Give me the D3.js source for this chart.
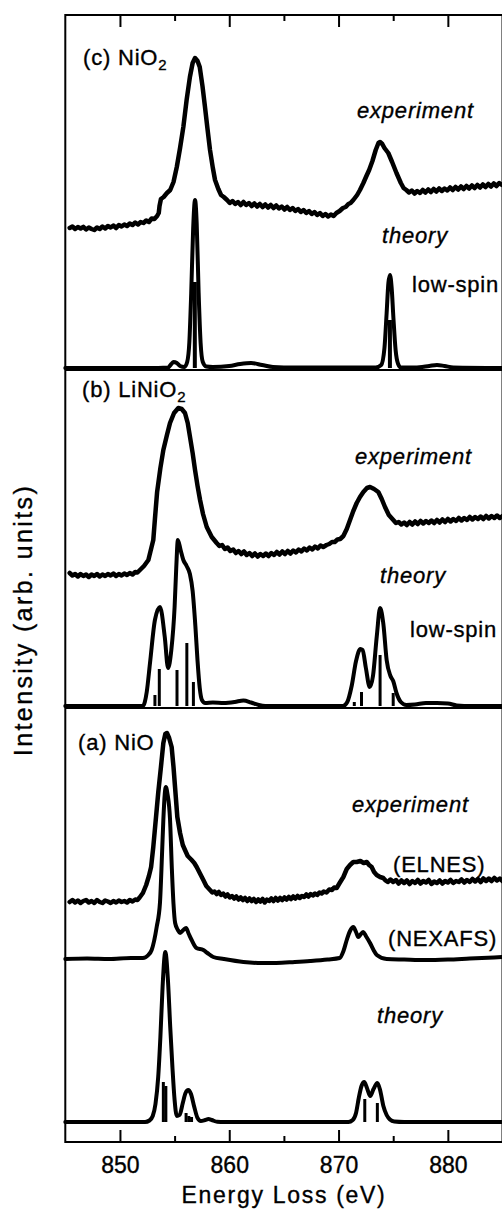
<!DOCTYPE html>
<html>
<head>
<meta charset="utf-8">
<script src="https://cdn.jsdelivr.net/npm/d3@7"></script>
<style>
  html, body { margin: 0; padding: 0; background: #fff; }
  svg { display: block; }
  text { font-family: "Liberation Sans", Arial, Helvetica, sans-serif; fill: #000; }
</style>
</head>
<body>
<svg id="chart" width="502" height="1212"></svg>
<script>
// ---------- data: Ni L2,3-edge spectra, [energy (eV), intensity (arb.)] ----------
const energyDomain = [845, 885];
const majorTicks = [850, 860, 870, 880];
const minorTicks = [855, 865, 875];

// vertical offsets of each trace in the stacked plot (arb. units)
const offsetNiO2Exp = 91.4;
const offsetNiO2Theory = 77.4;
const offsetLiNiO2Exp = 56.7;
const offsetLiNiO2Theory = 43.6;
const offsetNiOElnes = 24.0;
const offsetNiONexafs = 18.3;
const offsetNiOTheory = 2.0;
const panelBoundaries = [77.2, 43.4];

// (c) NiO2 — EELS experiment
const niO2Experiment = [
  [845.4,0],[845.65,0.15],[845.9,-0.1],[846.15,0.1],[846.4,-0.05],[846.65,0.12],[846.9,-0.15],[847.15,0.05],
  [847.4,-0.1],[847.65,-0.2],[847.9,0.05],[848.15,-0.1],[848.4,0.15],[848.65,-0.05],[848.9,0.2],[849.15,0.05],
  [849.4,0.25],[849.65,0.0],[849.9,0.3],[850.15,0.15],[850.4,0.35],[850.65,0.2],[850.9,0.45],[851.15,0.3],
  [851.4,0.55],[851.65,0.35],[851.9,0.6],[852.15,0.5],[852.4,0.75],[852.65,0.6],[852.9,0.95],[853.15,0.9],
  [853.4,1.2],[853.55,1.5],[853.62,2.2],[853.75,2.9],[854.0,3.1],[854.3,3.5],[854.6,3.8],
  [854.9,4.6],[855.2,6.1],[855.5,8.0],[855.8,10.1],[856.1,12.8],[856.4,15.1],[856.65,16.5],[856.87,17.0],
  [857.1,16.7],[857.3,16.1],[857.55,14.2],[857.78,12.1],[858.0,10.0],[858.24,7.8],[858.5,6.0],[858.7,4.8],
  [859.0,3.9],[859.25,3.3],[859.5,3.1],[859.8,2.8],[860.05,2.5],[860.3,2.7],[860.55,2.4],[860.8,2.6],
  [861.05,2.3],[861.3,2.6],[861.55,2.3],[861.8,2.5],[862.05,2.2],[862.3,2.45],[862.55,2.15],[862.8,2.4],
  [863.05,2.1],[863.3,2.35],[863.55,2.05],[863.8,2.3],[864.05,2.0],[864.3,2.25],[864.55,1.95],[864.8,2.15],
  [865.05,1.85],[865.3,2.1],[865.55,1.8],[865.8,2.0],[866.05,1.7],[866.3,1.9],[866.55,1.6],[866.8,1.8],
  [867.05,1.5],[867.3,1.7],[867.55,1.4],[867.8,1.6],[868.05,1.3],[868.3,1.5],[868.55,1.2],[868.8,1.4],
  [869.05,1.15],[869.3,1.35],[869.55,1.2],[869.8,1.5],[870.1,1.7],[870.4,2.0],[870.65,2.1],[870.9,2.4],
  [871.1,2.5],[871.35,2.8],[871.7,3.3],[871.96,3.8],[872.27,4.5],[872.55,5.2],[872.8,5.8],[873.1,6.7],
  [873.4,7.8],[873.65,8.5],[873.8,8.6],[874.0,8.4],[874.2,8.0],[874.55,7.5],[874.9,6.6],[875.3,5.5],
  [875.7,4.5],[875.95,4.0],[876.2,3.8],[876.45,3.55],[876.7,3.75],[876.95,3.45],[877.2,3.7],[877.45,3.5],
  [877.7,3.8],[877.95,3.55],[878.2,3.85],[878.45,3.6],[878.7,3.9],[878.95,3.65],[879.2,3.95],[879.45,3.7],
  [879.7,3.95],[879.95,3.75],[880.2,4.05],[880.45,3.8],[880.7,4.1],[880.95,3.85],[881.2,4.15],[881.45,3.9],
  [881.7,4.2],[881.95,3.95],[882.2,4.25],[882.45,4.0],[882.7,4.3],[882.95,4.05],[883.2,4.35],[883.45,4.1],
  [883.7,4.4],[883.95,4.15],[884.2,4.45],[884.45,4.2],[884.7,4.5],[884.95,4.3],[885.2,4.45]
];
// (c) NiO2 — multiplet theory, low-spin (broadened)
const niO2Theory = [
  [845,0],[853.5,0],[854.4,0.05],[854.7,0.4],[854.9,0.6],[855.2,0.5],[855.5,0.2],[855.9,0.1],
  [856.15,0.6],[856.35,2.6],[856.52,7.5],[856.7,14.0],[856.87,16.8],[857.02,14.5],[857.2,7.5],[857.38,2.5],
  [857.58,0.6],[857.9,0.15],[858.5,0.1],[860.0,0.2],[861.0,0.4],[862.0,0.5],[863.0,0.3],[864.0,0.1],
  [866.0,0.05],[873.4,0.05],[873.9,0.3],[874.2,2.0],[874.4,5.5],[874.56,8.5],[874.71,9.3],[874.86,8.0],
  [875.02,5.0],[875.22,1.8],[875.45,0.4],[875.7,0.05],[877.0,0.05],[878.3,0.2],[879.0,0.3],[879.7,0.2],
  [880.5,0.05],[885.2,0]
];
// (c) NiO2 — multiplet line intensities
const niO2Sticks = [[856.85, 8.6], [874.7, 4.8]];

// (b) LiNiO2 — EELS experiment
const liNiO2Experiment = [
  [845.4,0.2],[845.65,-0.05],[845.9,0.1],[846.15,-0.15],[846.4,0.1],[846.65,-0.1],[846.9,0.05],[847.15,-0.2],
  [847.4,0.05],[847.65,-0.1],[847.9,0.1],[848.15,-0.15],[848.4,0.05],[848.65,-0.1],[848.9,0.1],[849.15,-0.05],
  [849.4,0.15],[849.65,-0.1],[849.9,0.1],[850.15,-0.05],[850.4,0.15],[850.65,0.0],[850.9,0.2],[851.15,0.05],
  [851.4,0.3],[851.6,0.25],[851.83,0.5],[852.2,0.9],[852.6,1.5],
  [853.05,3.5],[853.2,5.6],[853.4,8.3],[853.7,10.7],[853.97,12.5],[854.3,14.0],[854.58,15.2],[854.95,16.2],
  [855.34,16.7],[855.65,16.6],[855.95,16.2],[856.2,15.2],[856.41,13.8],[856.65,12.2],[856.87,10.5],[857.1,8.9],
  [857.33,7.5],[857.6,6.1],[857.94,4.8],[858.4,3.8],[858.85,3.2],[859.1,2.9],[859.35,3.0],[859.6,2.6],
  [859.85,2.75],[860.1,2.4],[860.37,2.55],[860.6,2.2],[860.85,2.4],[861.1,2.1],[861.35,2.35],[861.6,2.0],
  [861.85,2.2],[862.1,1.9],[862.35,2.15],[862.6,1.85],[862.85,2.1],[863.1,1.9],[863.35,2.15],[863.6,1.9],
  [863.85,2.2],[864.1,2.0],[864.35,2.3],[864.6,2.05],[864.85,2.35],[865.1,2.1],[865.35,2.4],[865.6,2.15],
  [865.85,2.45],[866.1,2.25],[866.35,2.55],[866.6,2.35],[866.85,2.65],[867.1,2.45],[867.35,2.75],[867.6,2.55],
  [867.85,2.85],[868.1,2.65],[868.35,2.95],[868.6,2.8],[868.9,3.0],[869.15,3.1],[869.4,3.3],[869.65,3.3],
  [869.9,3.55],[870.15,3.6],[870.44,3.9],[870.75,4.6],[871.05,5.5],[871.35,6.4],[871.66,7.2],
  [871.96,7.8],[872.27,8.3],[872.6,8.7],[872.88,8.8],[873.25,8.6],[873.64,8.3],[873.95,7.6],[874.25,6.8],
  [874.6,6.0],[875.01,5.5],[875.25,5.2],[875.5,5.3],[875.75,5.05],[876.0,5.25],[876.25,5.0],[876.5,5.3],
  [876.75,5.05],[877.0,5.35],[877.25,5.1],[877.5,5.4],[877.75,5.15],[878.0,5.4],[878.25,5.2],[878.5,5.45],
  [878.75,5.2],[879.0,5.5],[879.25,5.25],[879.5,5.55],[879.75,5.3],[880.0,5.6],[880.25,5.35],[880.5,5.6],
  [880.75,5.4],[881.0,5.7],[881.25,5.45],[881.5,5.7],[881.75,5.5],[882.0,5.8],[882.25,5.55],[882.5,5.8],
  [882.75,5.6],[883.0,5.85],[883.25,5.6],[883.5,5.9],[883.75,5.65],[884.0,5.9],[884.25,5.7],[884.5,5.95],
  [884.75,5.7],[885.0,5.9],[885.2,5.8]
];
// (b) LiNiO2 — multiplet theory, low-spin (broadened)
const liNiO2Theory = [
  [845,0],[852.1,0],[852.45,1.4],[852.75,4.3],[853.2,8.6],[853.66,9.9],[854.1,6.9],[854.4,3.8],
  [854.7,5.6],[855.0,9.9],[855.15,13.8],[855.3,16.6],[855.55,15.6],[855.8,14.6],[856.1,14.0],[856.4,13.2],
  [856.65,11.5],[856.9,8.0],[857.1,4.5],[857.3,1.8],[857.5,0.6],[857.8,0.3],[858.5,0.35],[859.5,0.3],
  [860.5,0.4],[861.3,0.55],[862.0,0.35],[862.7,0.1],[863.3,0],[870.4,0],[870.8,0.4],[871.2,2.0],
  [871.6,4.5],[872.0,5.7],[872.2,5.6],[872.5,3.8],[872.85,1.9],[873.15,3.0],[873.5,7.0],[873.8,9.8],
  [874.1,8.2],[874.4,4.6],[874.75,3.0],[875.0,2.5],[875.3,1.3],[875.7,0.4],[876.2,0.1],[877.0,0.15],
  [878.0,0.3],[879.0,0.3],[880.0,0.25],[880.8,0.05],[881.5,0],[885.2,0]
];
// (b) LiNiO2 — multiplet line intensities
const liNiO2Sticks = [
  [853.2,1.1],[853.6,3.7],[855.22,3.6],[856.12,6.3],[856.72,2.4],
  [871.44,0.4],[872.1,1.4],[873.8,5.1],[875.0,1.3]
];

// (a) NiO — EELS experiment (ELNES)
const nioElnes = [
  [845.4,0],[845.65,0.2],[845.9,-0.05],[846.15,0.15],[846.4,-0.1],[846.65,0.1],[846.9,0.2],[847.15,-0.05],
  [847.4,0.1],[847.65,-0.1],[847.9,0.2],[848.15,0.0],[848.4,-0.1],[848.65,0.15],[848.9,0.05],[849.15,-0.1],
  [849.4,0.1],[849.65,-0.05],[849.9,0.15],[850.15,0.0],[850.4,0.1],[850.65,-0.05],[850.9,0.2],[851.15,0.05],
  [851.4,0.25],[851.6,0.2],[851.8,0.45],[852.1,0.9],[852.4,1.7],
  [852.65,2.6],[852.85,3.5],[853.05,5.5],[853.3,8.5],[853.5,10.9],[853.75,13.5],[853.97,15.9],[854.15,16.8],
  [854.3,16.9],[854.5,16.4],[854.73,15.5],[854.9,13.5],[855.04,11.5],[855.25,8.5],[855.5,6.9],[855.75,5.7],
  [855.95,5.2],[856.2,4.6],[856.56,4.2],[856.8,3.9],[857.02,3.5],[857.3,2.9],[857.63,2.2],[857.9,1.6],
  [858.24,1.2],[858.45,0.95],[858.65,1.05],[858.85,0.8],[859.05,1.0],[859.25,0.7],[859.45,0.85],[859.65,0.55],
  [859.85,0.75],[860.05,0.45],[860.25,0.6],[860.45,0.35],[860.65,0.55],[860.85,0.25],[861.05,0.45],[861.25,0.2],
  [861.45,0.4],[861.65,0.1],[861.85,0.35],[862.05,0.1],[862.25,0.3],[862.45,0.0],[862.65,0.25],[862.85,0.05],
  [863.05,0.3],[863.25,-0.05],[863.45,0.25],[863.65,0.1],[863.85,0.35],[864.05,0.1],[864.25,0.4],[864.45,0.15],
  [864.65,0.4],[864.85,0.2],[865.05,0.45],[865.25,0.25],[865.45,0.5],[865.65,0.3],[865.85,0.55],[866.05,0.35],
  [866.25,0.6],[866.45,0.4],[866.65,0.6],[866.85,0.5],[867.05,0.75],[867.25,0.55],[867.45,0.8],[867.65,0.65],
  [867.85,0.85],[868.05,0.7],[868.25,0.95],[868.45,0.85],[868.65,1.05],[868.9,0.95],[869.15,1.25],[869.4,1.2],
  [869.6,1.45],[869.83,1.4],[870.1,1.9],[870.44,2.5],
  [870.75,3.3],[871.05,3.7],[871.35,4.0],[871.66,4.0],[872.0,4.1],[872.3,3.9],[872.58,4.0],[872.8,3.7],
  [873.03,3.5],[873.25,3.0],[873.49,2.7],[873.8,2.5],[874.09,2.4],[874.3,2.15],[874.5,2.0],[874.75,2.25],
  [875.0,2.0],[875.25,2.2],[875.5,1.85],[875.75,2.15],[876.0,1.9],[876.25,2.15],[876.5,1.8],[876.75,2.1],
  [877.0,1.9],[877.25,2.2],[877.5,1.85],[877.75,2.1],[878.0,1.95],[878.25,2.2],[878.5,1.8],[878.75,2.05],
  [879.0,1.9],[879.25,2.15],[879.5,1.85],[879.75,2.1],[880.0,1.95],[880.25,2.2],[880.5,1.9],[880.75,2.1],
  [881.0,2.0],[881.25,2.25],[881.5,1.95],[881.75,2.2],[882.0,2.0],[882.25,2.3],[882.5,2.05],[882.75,2.3],
  [883.0,2.0],[883.25,2.35],[883.5,2.1],[883.75,2.35],[884.0,2.1],[884.25,2.4],[884.5,2.15],[884.75,2.35],
  [885.0,2.1]
];
// (a) NiO — X-ray absorption (NEXAFS)
const nioNexafs = [
  [845.0,0],[847.0,0.05],[849.0,0],[851.0,0.1],[852.1,0.1],[852.6,0.4],[852.9,0.9],[853.36,3.2],
  [853.66,5.6],[853.85,10.5],[853.97,13.9],[854.1,16.5],[854.2,17.2],[854.35,16.5],[854.58,14.0],[854.75,9.0],
  [854.9,5.5],[855.05,3.6],[855.3,2.9],[855.5,2.6],[855.8,2.9],[856.05,3.1],[856.3,2.5],[856.56,1.9],
  [857.0,1.1],[857.63,0.9],[858.0,0.6],[858.54,0.2],[859.5,0],[861.3,-0.3],[863.0,-0.4],[864.3,-0.4],
  [866.0,-0.3],[867.4,-0.2],[869.0,-0.05],[870.1,0.1],[870.45,0.8],[870.75,1.9],[871.05,2.8],[871.35,3.2],
  [871.6,2.7],[871.8,2.2],[872.05,2.5],[872.26,2.7],[872.5,2.3],[872.88,1.6],[873.2,0.9],[873.5,0.4],
  [874.4,0],[876.0,-0.05],[878.0,-0.1],[880.0,-0.05],[882.0,0.05],[885.2,0.2]
];
// (a) NiO — multiplet theory (broadened)
const nioTheory = [
  [845,0],[852.3,0],[852.7,0.15],[853.0,0.6],[853.25,1.8],[853.5,4.5],[853.7,8.5],[853.9,13.5],
  [854.15,17.0],[854.4,14.0],[854.6,9.5],[854.8,5.5],[855.0,2.2],[855.2,0.6],[855.45,0.7],[855.75,1.9],
  [856.0,2.9],[856.25,3.2],[856.5,2.8],[856.8,1.5],[857.1,0.4],[857.4,0.1],[857.8,0.2],[858.1,0.3],
  [858.4,0.2],[858.9,0.02],[859.5,0],[870.9,0],[871.3,0.2],[871.6,0.9],[871.85,2.4],[872.1,3.6],
  [872.35,4.0],[872.6,3.4],[872.9,2.6],[873.2,3.3],[873.55,3.9],[873.8,3.2],[874.1,1.6],[874.4,0.7],
  [874.7,0.25],[875.1,0.05],[876.0,0],[885.2,0]
];
// (a) NiO — multiplet line intensities
const nioSticks = [
  [853.97,4.0],[854.2,3.6],[856.05,0.9],[856.3,0.6],[856.55,0.5],[872.4,2.3],[873.55,1.9]
];

// ---------- layout ----------
const svg = d3.select("#chart");
const frame = { top: 15, bottom: 1142 };
const x = d3.scaleLinear().domain(energyDomain).range([65.3, 502.5]);
const y = d3.scaleLinear().domain([0, 112.7]).range([frame.bottom, frame.top]);

const traces = [
  { data: niO2Experiment, offset: offsetNiO2Exp, curve: d3.curveLinear, width: 4.5 },
  { data: niO2Theory, offset: offsetNiO2Theory, curve: d3.curveMonotoneX, width: 4 },
  { data: liNiO2Experiment, offset: offsetLiNiO2Exp, curve: d3.curveLinear, width: 4.5 },
  { data: liNiO2Theory, offset: offsetLiNiO2Theory, curve: d3.curveMonotoneX, width: 4 },
  { data: nioElnes, offset: offsetNiOElnes, curve: d3.curveLinear, width: 4.5 },
  { data: nioNexafs, offset: offsetNiONexafs, curve: d3.curveMonotoneX, width: 4 },
  { data: nioTheory, offset: offsetNiOTheory, curve: d3.curveMonotoneX, width: 4 }
];
const stickSets = [
  { data: niO2Sticks, offset: offsetNiO2Theory, width: 4 },
  { data: liNiO2Sticks, offset: offsetLiNiO2Theory, width: 3 },
  { data: nioSticks, offset: offsetNiOTheory, width: 3 }
];

const plot = svg.append("g");

// stick spectra
stickSets.forEach(s => {
  plot.append("g").selectAll("line").data(s.data).join("line")
    .attr("x1", d => x(d[0])).attr("x2", d => x(d[0]))
    .attr("y1", y(s.offset)).attr("y2", d => y(s.offset + d[1]))
    .attr("stroke", "#000").attr("stroke-width", s.width);
});

// spectra
traces.forEach(t => {
  const line = d3.line()
    .x(d => x(d[0]))
    .y(d => y(t.offset + d[1]))
    .curve(t.curve);
  plot.append("path").datum(t.data)
    .attr("d", line)
    .attr("fill", "none")
    .attr("stroke", "#000")
    .attr("stroke-width", t.width)
    .attr("stroke-linejoin", "round")
    .attr("stroke-linecap", "round");
});

// panel separators
plot.append("g").selectAll("line").data(panelBoundaries).join("line")
  .attr("x1", x(energyDomain[0])).attr("x2", x(energyDomain[1]))
  .attr("y1", d => y(d)).attr("y2", d => y(d))
  .attr("stroke", "#000").attr("stroke-width", 2);

// frame
svg.append("rect")
  .attr("x", x(energyDomain[0])).attr("y", frame.top)
  .attr("width", x(energyDomain[1]) - x(energyDomain[0]))
  .attr("height", frame.bottom - frame.top)
  .attr("fill", "none").attr("stroke", "#000").attr("stroke-width", 2);

// axes: ticks point inward on bottom and top
const fontStack = '"Liberation Sans", Arial, Helvetica, sans-serif';
const bottomMajor = d3.axisBottom(x).tickValues(majorTicks).tickSizeInner(-12).tickSizeOuter(0)
  .tickPadding(15).tickFormat(d3.format("d"));
const gb = svg.append("g").attr("transform", `translate(0,${frame.bottom})`).call(bottomMajor);
gb.select(".domain").remove();
gb.selectAll(".tick line").attr("stroke-width", 2);
gb.selectAll("text").attr("font-size", 23).attr("font-family", fontStack).attr("fill", "#000")
  .attr("stroke", "#000").attr("stroke-width", 0.35);

const bottomMinor = d3.axisBottom(x).tickValues(minorTicks).tickSizeInner(-6).tickSizeOuter(0).tickFormat("");
const gbm = svg.append("g").attr("transform", `translate(0,${frame.bottom})`).call(bottomMinor);
gbm.select(".domain").remove();
gbm.selectAll(".tick line").attr("stroke-width", 2);

const topMajor = d3.axisTop(x).tickValues(majorTicks).tickSizeInner(-12).tickSizeOuter(0).tickFormat("");
const gt = svg.append("g").attr("transform", `translate(0,${frame.top})`).call(topMajor);
gt.select(".domain").remove();
gt.selectAll(".tick line").attr("stroke-width", 2);
const topMinor = d3.axisTop(x).tickValues(minorTicks).tickSizeInner(-6).tickSizeOuter(0).tickFormat("");
const gtm = svg.append("g").attr("transform", `translate(0,${frame.top})`).call(topMinor);
gtm.select(".domain").remove();
gtm.selectAll(".tick line").attr("stroke-width", 2);

// axis titles
svg.append("text")
  .attr("x", 284).attr("y", 1203)
  .attr("text-anchor", "middle")
  .attr("font-size", 23).attr("letter-spacing", 1.7)
  .attr("stroke", "#000").attr("stroke-width", 0.35)
  .text("Energy Loss (eV)");
svg.append("text")
  .attr("transform", "translate(32,620) rotate(-90)")
  .attr("text-anchor", "middle")
  .attr("font-size", 25).attr("letter-spacing", 2.4)
  .attr("stroke", "#000").attr("stroke-width", 0.35)
  .text("Intensity (arb. units)");

// panel annotations
function note(px, py, parts, italic) {
  const t = svg.append("text")
    .attr("x", px).attr("y", py)
    .attr("font-size", 22).attr("letter-spacing", 0.8)
    .attr("stroke", "#000").attr("stroke-width", 0.35)
    .attr("font-style", italic ? "italic" : "normal");
  parts.forEach(p => {
    const s = t.append("tspan").text(p.text);
    if (p.sub) s.attr("font-size", 15).attr("dy", 5);
  });
}
note(83, 65, [{ text: "(c) NiO" }, { text: "2", sub: true }]);
note(357, 118, [{ text: "experiment" }], true);
note(382, 243, [{ text: "theory" }], true);
note(412, 292, [{ text: "low-spin" }]);
note(82, 397, [{ text: "(b) LiNiO" }, { text: "2", sub: true }]);
note(355, 464, [{ text: "experiment" }], true);
note(380, 583, [{ text: "theory" }], true);
note(410, 637, [{ text: "low-spin" }]);
note(78, 750, [{ text: "(a) NiO" }]);
note(352, 812, [{ text: "experiment" }], true);
note(393, 872, [{ text: "(ELNES)" }]);
note(388, 946, [{ text: "(NEXAFS)" }]);
note(377, 1023, [{ text: "theory" }], true);
</script>
</body>
</html>
